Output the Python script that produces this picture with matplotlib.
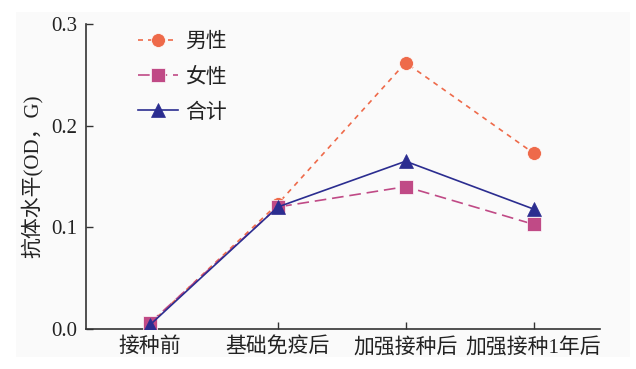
import matplotlib
matplotlib.use("Agg")
import matplotlib.pyplot as plt
from matplotlib.patches import Rectangle

plt.rcParams['font.family'] = ['Liberation Serif', 'Noto Sans CJK SC']

categories = ["接种前", "基础免疫后", "加强接种后", "加强接种1年后"]
male = [0.005, 0.123, 0.262, 0.173]
female = [0.006, 0.120, 0.140, 0.103]
total = [0.004, 0.120, 0.165, 0.118]
series_names = ["男性", "女性", "合计"]
yticks = [0.0, 0.1, 0.2, 0.3]
ylabel = "抗体水平(OD，G)"

fig = plt.figure(figsize=(6.36, 3.69), dpi=100)
fig.patch.set_facecolor("white")
fig.patches.append(Rectangle((16/636, 1-357/369), (630-16)/636, (357-12)/369,
                             transform=fig.transFigure, facecolor="#fafafa",
                             edgecolor="none", zorder=-10))
ax = fig.add_axes([86/636, 1-329/369, (600-86)/636, (329-24)/369])
ax.set_facecolor("#fafafa")

x = list(range(len(categories)))
ax.plot(x, male, color="#ee6a4a", linestyle=(0, (3, 3)), linewidth=1.2,
        marker="o", markersize=10, markeredgecolor="white", markeredgewidth=0.5,
        label=series_names[0], zorder=3)
ax.plot(x, female, color="#c04a86", linestyle=(0, (7, 3.5)), linewidth=1.2,
        marker="s", markersize=9.5, markeredgecolor="white", markeredgewidth=0.5,
        label=series_names[1], zorder=4)
ax.plot(x, total, color="#2b2d90", linestyle="-", linewidth=1.2,
        marker="^", markersize=10, markeredgecolor="#2b2d90", markeredgewidth=0.5,
        label=series_names[2], zorder=5)

ax.set_xlim(-0.5, 3.52)
ax.set_ylim(0, 0.3)
ax.set_yticks(yticks)
ax.set_yticklabels([f"{v:.1f}" for v in yticks])
ax.set_xticks(x)
ax.set_xticklabels(categories)
ax.tick_params(direction="in", length=5, width=1, colors="#333333",
               labelsize=15, labelcolor="#222222", pad=6)
for s in ["top", "right"]:
    ax.spines[s].set_visible(False)
for s in ["left", "bottom"]:
    ax.spines[s].set_color("#333333")
    ax.spines[s].set_linewidth(1.2)
ax.set_ylabel(ylabel, fontsize=15, color="#222222", labelpad=6)

leg = ax.legend(loc="upper left", bbox_to_anchor=(0.085, 1.0), frameon=False,
                fontsize=15, handlelength=1.9, labelspacing=0.75, handletextpad=0.35,
                borderaxespad=0)
for t in leg.get_texts():
    t.set_color("#222222")

fig.savefig("out.png", dpi=100, facecolor=fig.get_facecolor())
